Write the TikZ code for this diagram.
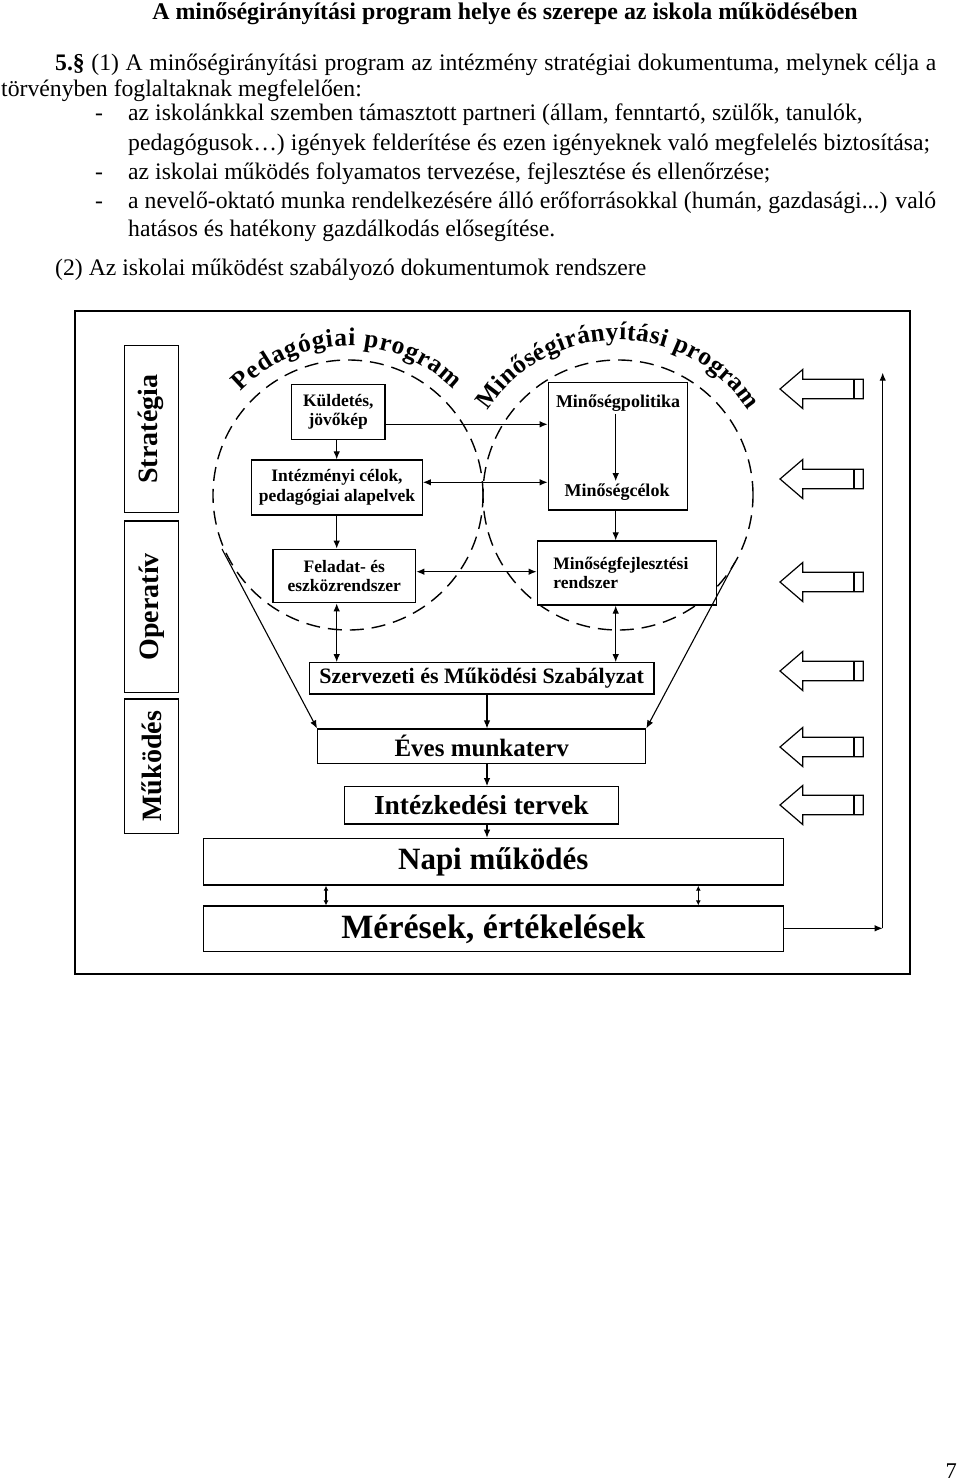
\documentclass[tikz,border=0pt]{standalone}
\usepackage{fontspec}
\setmainfont{Liberation Serif}
\usetikzlibrary{arrows.meta,decorations.text,calc}
\begin{document}
\begin{tikzpicture}[x=1pt,y=1pt,
  body/.style={anchor=base west, inner sep=0pt, font=\fontsize{23.7}{28}\selectfont},
  box/.style={draw, line width=1.3pt, inner sep=0pt, align=center, font=\bfseries\fontsize{17.5}{19.5}\selectfont},
  sidebox/.style={draw, line width=1.3pt, inner sep=0pt, rotate=90, minimum height=54pt, font=\bfseries\fontsize{28}{28}\selectfont},
  arr/.style={-{Latex[length=8pt,width=6.5pt]}, line width=1.1pt},
  darr/.style={{Latex[length=8pt,width=6.5pt]}-{Latex[length=8pt,width=6.5pt]}, line width=1.1pt},
  sdarr/.style={{Latex[length=5pt,width=5pt]}-{Latex[length=5pt,width=5pt]}, line width=1.1pt},
  dcirc/.style={line width=1.4pt, dash pattern=on 14pt off 8pt},
  blockarr/.style={line width=1.2pt, fill=white}
]
\useasboundingbox (0,0) rectangle (960,-1482);
\fill[white] (0,0) rectangle (960,-1482);

% ---------- text above ----------
\node[anchor=base, inner sep=0pt, font=\bfseries\fontsize{23.9}{28}\selectfont] (title) at (505,-20)
  {A minőségirányítási program helye és szerepe az iskola működésében};
\node[body] (l1) at (55,-71) {\makebox[881pt][s]{\textbf{5.§} (1) A minőségirányítási program az intézmény stratégiai dokumentuma, melynek célja a}};
\node[body] (l2) at (1,-97) {törvényben foglaltaknak megfelelően:};
\node[body] (d3) at (95,-121) {-};
\node[body] (l3) at (128,-121) {az iskolánkkal szemben támasztott partneri (állam, fenntartó, szülők, tanulók,};
\node[body] (l4) at (128,-151) {\makebox[802pt][s]{pedagógusok…) igények felderítése és ezen igényeknek való megfelelés biztosítása;}};
\node[body] (d5) at (95,-180) {-};
\node[body] (l5) at (128,-180) {az iskolai működés folyamatos tervezése, fejlesztése és ellenőrzése;};
\node[body] (d6) at (95,-208) {-};
\node[body] (l6) at (128,-208) {\makebox[808pt][s]{a nevelő-oktató munka rendelkezésére álló erőforrásokkal (humán, gazdasági...) való}};
\node[body] (l7) at (128,-236) {hatásos és hatékony gazdálkodás elősegítése.};
\node[body] (l8) at (55,-275) {(2) Az iskolai működést szabályozó dokumentumok rendszere};
\node[anchor=base east, inner sep=0pt, font=\fontsize{22.5}{26}\selectfont] (pg) at (957,-1478) {7};

% ---------- frame ----------
\draw[line width=2pt] (75,-311) rectangle (909.5,-973.5);

% ---------- side labels ----------
\node[sidebox, minimum width=167pt] (strat) at (151.3,-429.2) {Stratégia};
\node[sidebox, minimum width=171.3pt] (oper) at (151.3,-606.7) {Operatív};
\node[sidebox, minimum width=134.3pt] (mukod) at (151.3,-766.2) {Működés};

% ---------- dashed circles ----------
\draw[dcirc] (348,-495) circle (135);
\draw[dcirc] (618,-495) circle (135);
\path[decorate, decoration={text along path, text align={fit to path},
   text={|\bfseries\fontsize{25.5}{25.5}\selectfont|Pedagógiai program}}]
   (348,-495) ++(136:149) arc[start angle=136, end angle=45, radius=149];
\path[decorate, decoration={text along path, text align={fit to path},
   text={|\bfseries\fontsize{25.5}{25.5}\selectfont|Minőségirányítási program}}]
   (618,-495) ++(147:155) arc[start angle=147, end angle=33, radius=155];

% ---------- boxes ----------
\node[box, minimum width=93.3pt, minimum height=55pt, fill=white] (kuld) at (338.3,-411.8) {Küldetés,\\jövőkép};
\node[box, minimum width=170.6pt, minimum height=55pt, fill=white] (intez) at (337,-487.5) {Intézményi célok,\\pedagógiai alapelvek};
\node[box, minimum width=142.7pt, minimum height=53.4pt, fill=white] (felad) at (344.3,-576) {Feladat- és\\eszközrendszer};
\node[box, minimum width=139pt, minimum height=127.3pt, fill=white] (minbox) at (617.8,-446.3) {};
\node[inner sep=2pt, font=\bfseries\fontsize{18}{20}\selectfont] (mpol) at (618,-403.3) {Minőségpolitika};
\node[inner sep=2pt, font=\bfseries\fontsize{18}{20}\selectfont] (mcel) at (617,-491.7) {Minőségcélok};
\node[box, inner xsep=16pt, text width=147.4pt, align=left, minimum height=64pt, fill=white] (mfejl) at (627,-573) {Minőségfejlesztési\\rendszer};
\node[box, minimum width=344.7pt, minimum height=31.3pt, fill=white, font=\bfseries\fontsize{22}{22}\selectfont] (szmsz) at (481.7,-678.4) {Szervezeti és Működési Szabályzat};
\node[box, minimum width=328pt, minimum height=34.3pt, fill=white, font=\bfseries\fontsize{25}{25}\selectfont] (eves) at (481.7,-746.2) {Éves munkaterv};
\node[box, minimum width=274pt, minimum height=37.3pt, fill=white, font=\bfseries\fontsize{27.5}{27.5}\selectfont] (intk) at (481.3,-805.4) {Intézkedési tervek};
\node[box, minimum width=580pt, minimum height=46.7pt, fill=white, font=\bfseries\fontsize{31}{31}\selectfont] (napi) at (493.3,-861.7) {Napi működés};
\node[box, minimum width=580pt, minimum height=45.7pt, fill=white, font=\bfseries\fontsize{34}{34}\selectfont] (meres) at (493.3,-928.9) {Mérések, értékelések};

% ---------- coordinates ----------
\coordinate (lx) at (336.7,0);
\coordinate (rx) at (615.7,0);
\coordinate (cx) at (487,0);
\coordinate (fb) at (882.7,-928.3);
\coordinate (ft) at (882.7,-372.7);
\coordinate (dl) at (222,-549);
\coordinate (dr) at (735,-562);

% ---------- connectors ----------
\draw[arr] (kuld.south -| lx) -- (intez.north -| lx);
\draw[arr] (intez.south -| lx) -- (felad.north -| lx);
\draw[darr] (felad.south -| lx) -- (szmsz.north -| lx);
\draw[arr] ([yshift=-12.5pt]kuld.east) -- ([yshift=-12.5pt]kuld.east -| minbox.west);
\draw[darr] ([yshift=5.2pt]intez.east) -- ([yshift=5.2pt]intez.east -| minbox.west);
\draw[darr] ([yshift=4.3pt]felad.east) -- ([yshift=4.3pt]felad.east -| mfejl.west);
\draw[arr] (mpol.south -| rx) -- (mcel.north -| rx);
\draw[arr] (minbox.south -| rx) -- (mfejl.north -| rx);
\draw[darr] (mfejl.south -| rx) -- (szmsz.north -| rx);
\draw[arr] (szmsz.south -| cx) -- (eves.north -| cx);
\draw[arr] (eves.south -| cx) -- (intk.north -| cx);
\draw[arr] (intk.south -| cx) -- (napi.north -| cx);
\draw[sdarr] (napi.south -| 326,0) -- (meres.north -| 326,0);
\draw[sdarr] (napi.south -| 698.3,0) -- (meres.north -| 698.3,0);
\draw[arr] (meres.east |- fb) -- (fb);
\draw[arr] (fb) -- (ft);
\draw[arr] (dl) -- (eves.north west);
\draw[arr] (dr) -- (eves.north east);

% ---------- block arrows ----------
\foreach \c in {389,479,582,671,747,805} {
  \draw[blockarr] (780,-\c) -- (802.7,-\c+19.5) -- (802.7,-\c+9.7) -- (863.3,-\c+9.7)
     -- (863.3,-\c-9.7) -- (802.7,-\c-9.7) -- (802.7,-\c-19.5) -- cycle;
  \draw[line width=1.2pt] (854,-\c+9.7) -- (854,-\c-9.7);
}
\end{tikzpicture}
\end{document}
